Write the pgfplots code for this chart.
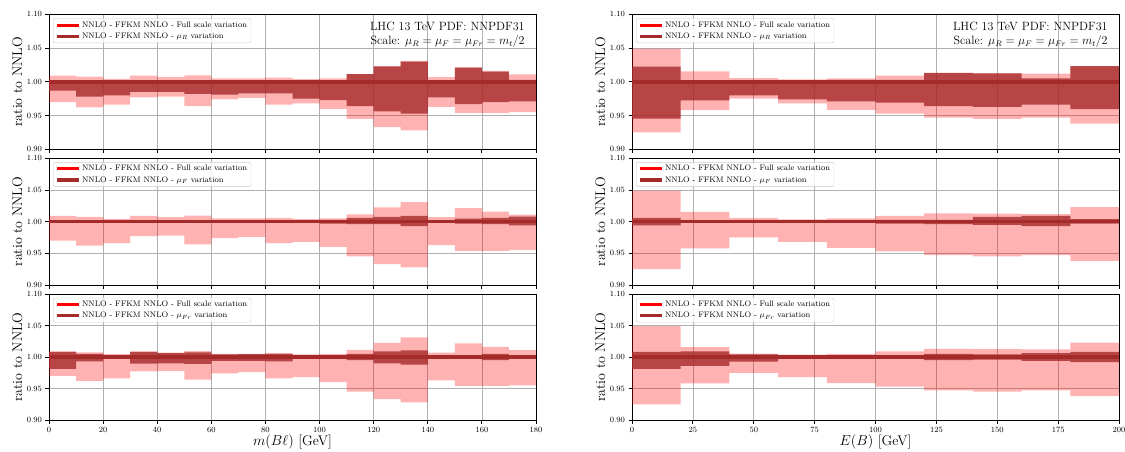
\documentclass[border=0pt]{standalone}
\usepackage{pgfplots}
\usepackage{pgfplotstable}
\pgfplotsset{compat=1.18}
\usepgfplotslibrary{fillbetween}

\definecolor{mpbrown}{RGB}{165,42,42}
\definecolor{gridgray}{RGB}{176,176,176}
\definecolor{legedge}{RGB}{204,204,204}

% columns: full scale band (FU/FL), muR (RU/RL), muF (MU/ML), muFr (SU/SL), central ratio R
\pgfplotstableread{
x   FU     FL     RU     RL     MU     ML     SU     SL     R
0   1.0090 0.970  1.001  0.987  1.002  0.998  1.008  0.981  1.000
10  1.0075 0.962  1.001  0.978  1.002  0.998  1.005  0.993  1.000
20  1.0045 0.966  1.001  0.980  1.002  0.998  1.003  0.997  1.000
30  1.0090 0.977  1.001  0.985  1.002  0.998  1.008  0.9895 1.000
40  1.0070 0.978  1.001  0.985  1.002  0.998  1.006  0.990  1.000
50  1.0095 0.964  1.001  0.982  1.002  0.998  1.0074 0.989  1.000
60  1.0050 0.974  1.001  0.981  1.002  0.998  1.004  0.994  1.000
70  1.0050 0.976  1.001  0.983  1.002  0.998  1.0047 0.994  1.000
80  1.0060 0.966  1.001  0.983  1.002  0.998  1.005  0.993  1.000
90  1.0040 0.968  1.001  0.975  1.002  0.998  1.003  0.997  1.000
100 1.0050 0.960  1.001  0.973  1.003  0.997  1.003  0.997  1.000
110 1.0115 0.945  1.0114 0.964  1.006  0.996  1.005  0.995  1.000
120 1.0225 0.933  1.0228 0.956  1.0074 0.996  1.009  0.990  1.000
130 1.0310 0.928  1.030  0.953  1.009  0.993  1.0105 0.988  1.000
140 1.0070 0.963  1.0025 0.977  1.002  0.998  1.003  0.997  1.000
150 1.0215 0.954  1.021  0.967  1.0047 0.997  1.003  0.997  1.000
160 1.0160 0.954  1.015  0.970  1.006  0.996  1.005  0.995  1.000
170 1.0110 0.955  1.003  0.971  1.008  0.994  1.003  0.997  1.000
180 1.0110 0.955  1.003  0.971  1.008  0.994  1.003  0.997  1.000
}\mbl

\pgfplotstableread{
x   FU     FL     RU     RL     MU     ML     SU     SL     R
0   1.049  0.925  1.0223 0.9455 1.006  0.994  1.008  0.981  1.000
20  1.0155 0.958  1.001  0.9723 1.002  0.998  1.009  0.986  1.000
40  1.0054 0.975  1.001  0.980  1.002  0.998  1.004  0.9926 1.000
60  1.0036 0.968  1.001  0.9738 1.002  0.998  1.003  0.997  1.000
80  1.005  0.9585 1.003  0.971  1.002  0.998  1.003  0.997  1.000
100 1.009  0.953  1.003  0.969  1.003  0.997  1.003  0.997  1.000
120 1.013  0.947  1.0134 0.964  1.003  0.996  1.005  0.995  1.000
140 1.0125 0.945  1.0124 0.963  1.0074 0.995  1.004  0.996  1.000
160 1.012  0.947  1.005  0.966  1.009  0.993  1.006  0.994  1.000
180 1.023  0.938  1.0233 0.9594 1.004  0.997  1.008  0.992  1.000
200 1.023  0.938  1.0233 0.9594 1.004  0.997  1.008  0.992  1.000
}\eb

% full band, variation band, central lines, legend
\newcommand\bands[4]{%
  \addplot[name path=fu, draw=none, const plot, forget plot] table[x=x,y=FU]{#1};
  \addplot[name path=fl, draw=none, const plot, forget plot] table[x=x,y=FL]{#1};
  \addplot[fill=red, fill opacity=0.3, draw=none, forget plot] fill between[of=fu and fl];
  \addplot[name path=vu, draw=none, const plot, forget plot] table[x=x,y=#2]{#1};
  \addplot[name path=vl, draw=none, const plot, forget plot] table[x=x,y=#3]{#1};
  \addplot[fill=mpbrown, fill opacity=0.8, draw=none, forget plot] fill between[of=vu and vl];
  \addplot[red, line width=3.5pt, forget plot] table[x=x,y=R]{#1};
  \addplot[mpbrown, line width=3.5pt, forget plot] table[x=x,y=R]{#1};
  \addlegendimage{draw=red, line width=3pt}
  \addlegendentry{NNLO - FFKM NNLO - Full scale variation}
  \addlegendimage{draw=mpbrown, line width=3pt}
  \addlegendentry{NNLO - FFKM NNLO - #4 variation}
}

\newcommand\scaletext{%
  \node[anchor=north east, align=right, inner sep=0pt,
        font=\fontsize{12}{14.3}\selectfont]
    at (rel axis cs:0.977,0.947)
    {LHC 13 TeV PDF: NNPDF31\\Scale: $\mu_R=\mu_F=\mu_{Fr}=m_t/2$};
}

\pgfplotsset{
  panel/.style={
    scale only axis, width=487pt, anchor=north west,
    ymin=0.9, ymax=1.1,
    ytick={0.90,0.95,1.00,1.05,1.10},
    yticklabel style={/pgf/number format/.cd, fixed, fixed zerofill, precision=2},
    grid=major, grid style={gridgray, line width=0.6pt},
    tick pos=left, tick align=outside, major tick length=3.5pt,
    every tick/.style={black, line width=0.8pt},
    axis line style={line width=0.8pt},
    ticklabel style={font=\fontsize{8}{8}\selectfont},
    ylabel={ratio to NNLO},
    ylabel style={font=\fontsize{14}{14}\selectfont, at={(axis description cs:-0.065,0.5)}, anchor=center},
    legend cell align=left,
    legend image code/.code={\draw[##1] (0pt,0pt) -- (22pt,0pt);},
    legend style={at={(0.008,0.97)}, anchor=north west, draw=legedge,
      rounded corners=2pt, fill=white, fill opacity=0.8, text opacity=1,
      draw opacity=1, font=\fontsize{8}{9}\selectfont,
      inner xsep=2pt, inner ysep=1pt, row sep=0pt},
  },
  leftp/.style={panel, xmin=0, xmax=180, xtick={0,20,...,180}},
  rightp/.style={panel, xmin=0, xmax=200, xtick={0,25,...,200}},
  notick/.style={xticklabels={}},
  xlab/.style={xlabel={#1}, xlabel style={font=\fontsize{14}{14}\selectfont,
      at={(axis description cs:0.5,-0.175)}, anchor=center}},
}

\begin{document}
\begin{tikzpicture}
% left column
\begin{axis}[leftp, notick, height=135pt, at={(49pt,-14.3pt)}]
\bands{\mbl}{RU}{RL}{$\mu_R$}
\scaletext
\end{axis}
\begin{axis}[leftp, notick, height=126.7pt, at={(49pt,-158.3pt)}]
\bands{\mbl}{MU}{ML}{$\mu_F$}
\end{axis}
\begin{axis}[leftp, xlab={$m(B\ell)$ [GeV]}, height=126pt, at={(49pt,-294pt)}]
\bands{\mbl}{SU}{SL}{$\mu_{Fr}$}
\end{axis}

% right column
\begin{axis}[rightp, notick, height=135pt, at={(632pt,-14.3pt)}]
\bands{\eb}{RU}{RL}{$\mu_R$}
\scaletext
\end{axis}
\begin{axis}[rightp, notick, height=126.7pt, at={(632pt,-158.3pt)}]
\bands{\eb}{MU}{ML}{$\mu_F$}
\end{axis}
\begin{axis}[rightp, xlab={$E(B)$ [GeV]}, height=126pt, at={(632pt,-294pt)}]
\bands{\eb}{SU}{SL}{$\mu_{Fr}$}
\end{axis}

\pgfresetboundingbox
\useasboundingbox (0,0) rectangle (1125pt,-452pt);
\end{tikzpicture}
\end{document}
